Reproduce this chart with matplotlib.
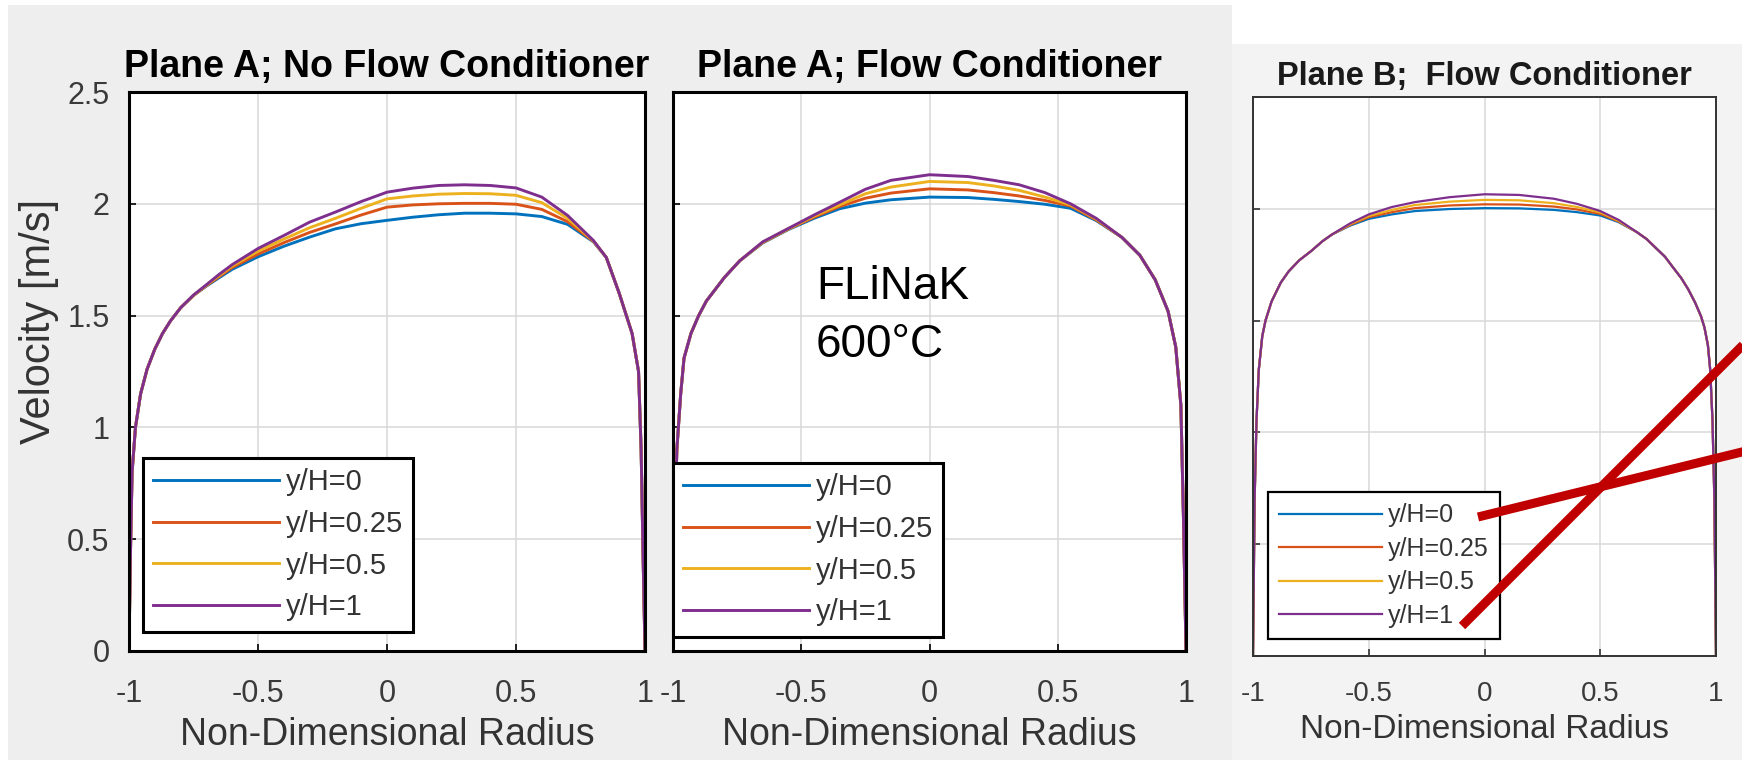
import matplotlib
matplotlib.use("Agg")
import matplotlib.pyplot as plt
from matplotlib.patches import Rectangle
from matplotlib.lines import Line2D

plt.rcParams['font.family'] = ['Liberation Sans', 'DejaVu Sans']
plt.rcParams['axes.unicode_minus'] = False

# ---------------- data ----------------
series_labels = ["y/H=0", "y/H=0.25", "y/H=0.5", "y/H=1"]
series_colors = ["#0072BD", "#D95319", "#EDB120", "#7E2F8E"]

titles = ["Plane A; No Flow Conditioner", "Plane A; Flow Conditioner", "Plane B;  Flow Conditioner"]
x_ticks = [-1, -0.5, 0, 0.5, 1]
x_ticklabels = ["-1", "-0.5", "0", "0.5", "1"]
y_ticks = [0, 0.5, 1, 1.5, 2, 2.5]
y_ticklabels = ["0", "0.5", "1", "1.5", "2", "2.5"]

# Panel 1: Plane A, no flow conditioner
x_p1 = [-1, -0.995, -0.988, -0.975, -0.955, -0.93, -0.9, -0.87, -0.84, -0.8, -0.75, -0.7, -0.65, -0.6,
        -0.5, -0.4, -0.3, -0.2, -0.1, 0, 0.1, 0.2, 0.3, 0.4, 0.5, 0.6, 0.7, 0.8, 0.85, 0.9, 0.95,
        0.975, 0.985, 0.993, 1.0]
p1_blue = [0, 0.4, 0.8, 1.0, 1.15, 1.26, 1.35, 1.42, 1.475, 1.535, 1.59, 1.632, 1.67, 1.707,
           1.763, 1.81, 1.851, 1.888, 1.911, 1.926, 1.94, 1.951, 1.958, 1.958, 1.955, 1.943, 1.908,
           1.83, 1.76, 1.6, 1.42, 1.25, 0.9, 0.4, 0]
p1_orange = [0, 0.4, 0.8, 1.0, 1.15, 1.26, 1.35, 1.42, 1.475, 1.535, 1.59, 1.634, 1.675, 1.715,
             1.775, 1.826, 1.872, 1.91, 1.95, 1.985, 1.995, 2.0, 2.002, 2.002, 1.998, 1.975, 1.92,
             1.832, 1.76, 1.6, 1.42, 1.25, 0.9, 0.4, 0]
p1_yellow = [0, 0.4, 0.8, 1.0, 1.15, 1.26, 1.35, 1.42, 1.475, 1.535, 1.59, 1.636, 1.68, 1.722,
             1.788, 1.842, 1.893, 1.935, 1.98, 2.022, 2.035, 2.043, 2.046, 2.045, 2.038, 2.005, 1.935,
             1.834, 1.76, 1.6, 1.42, 1.25, 0.9, 0.4, 0]
p1_purple = [0, 0.4, 0.8, 1.0, 1.15, 1.26, 1.35, 1.42, 1.475, 1.535, 1.592, 1.638, 1.685, 1.728,
             1.80, 1.858, 1.918, 1.963, 2.01, 2.052, 2.07, 2.082, 2.085, 2.082, 2.071, 2.03, 1.948,
             1.836, 1.76, 1.6, 1.42, 1.25, 0.9, 0.4, 0]

# Panel 2: Plane A, flow conditioner
x_p2 = [-1, -0.995, -0.985, -0.97, -0.957, -0.93, -0.9, -0.87, -0.8, -0.74, -0.65, -0.55, -0.45, -0.35,
        -0.25, -0.15, 0, 0.15, 0.25, 0.35, 0.45, 0.55, 0.65, 0.75, 0.82, 0.88, 0.93, 0.96, 0.98, 0.99, 1.0]
p2_blue = [0, 0.45, 0.9, 1.15, 1.31, 1.42, 1.5, 1.565, 1.67, 1.745, 1.825, 1.885, 1.935, 1.978,
           2.003, 2.018, 2.03, 2.028, 2.02, 2.01, 1.998, 1.98, 1.925, 1.85, 1.77, 1.66, 1.52, 1.36, 1.1, 0.6, 0]
p2_orange = [0, 0.45, 0.9, 1.15, 1.31, 1.42, 1.5, 1.565, 1.67, 1.745, 1.827, 1.887, 1.94, 1.988,
             2.025, 2.048, 2.067, 2.062, 2.05, 2.035, 2.015, 1.99, 1.928, 1.85, 1.77, 1.66, 1.52, 1.36, 1.1, 0.6, 0]
p2_yellow = [0, 0.45, 0.9, 1.15, 1.31, 1.42, 1.5, 1.565, 1.67, 1.745, 1.828, 1.888, 1.945, 1.995,
             2.045, 2.075, 2.10, 2.095, 2.08, 2.06, 2.03, 1.995, 1.932, 1.85, 1.77, 1.66, 1.52, 1.36, 1.1, 0.6, 0]
p2_purple = [0, 0.45, 0.9, 1.15, 1.31, 1.42, 1.5, 1.565, 1.67, 1.745, 1.83, 1.89, 1.95, 2.007,
             2.065, 2.105, 2.13, 2.122, 2.105, 2.085, 2.05, 2.0, 1.935, 1.85, 1.77, 1.66, 1.52, 1.36, 1.1, 0.6, 0]

# Panel 3: Plane B, flow conditioner
x_p3 = [-1, -0.997, -0.993, -0.985, -0.975, -0.96, -0.946, -0.92, -0.88, -0.846, -0.8, -0.75, -0.7,
        -0.659, -0.58, -0.5, -0.4, -0.3, -0.15, 0, 0.15, 0.3, 0.4, 0.5, 0.58, 0.659, 0.7, 0.74, 0.78,
        0.815, 0.85, 0.88, 0.91, 0.935, 0.95, 0.965, 0.975, 0.985, 0.993, 0.997, 1.0]
p3_edge_left = [0, 0.3, 0.7, 1.05, 1.28, 1.43, 1.5, 1.585, 1.67, 1.72, 1.77, 1.81, 1.855, 1.885]
p3_edge_right = [1.895, 1.865, 1.825, 1.785, 1.737, 1.69, 1.64, 1.58, 1.52, 1.47, 1.39, 1.28, 1.05, 0.7, 0.3, 0]
p3_blue = p3_edge_left + [1.925, 1.955, 1.975, 1.99, 1.999, 2.003, 2.002, 1.995, 1.985, 1.97, 1.94] + p3_edge_right
p3_orange = p3_edge_left + [1.928, 1.962, 1.985, 2.003, 2.015, 2.02, 2.019, 2.01, 1.997, 1.977, 1.943] + p3_edge_right
p3_yellow = p3_edge_left + [1.932, 1.968, 1.995, 2.017, 2.032, 2.04, 2.038, 2.025, 2.008, 1.984, 1.946] + p3_edge_right
p3_purple = p3_edge_left + [1.935, 1.975, 2.008, 2.03, 2.052, 2.065, 2.062, 2.045, 2.022, 1.99, 1.95] + p3_edge_right

panels = [
    (x_p1, [p1_blue, p1_orange, p1_yellow, p1_purple]),
    (x_p2, [p2_blue, p2_orange, p2_yellow, p2_purple]),
    (x_p3, [p3_blue, p3_orange, p3_yellow, p3_purple]),
]

annotation_text = ["FLiNaK", "600\u00b0C"]

# ---------------- layout ----------------
W, H = 1742, 770
fig = plt.figure(figsize=(W / 100, H / 100), dpi=100)
fig.patch.set_facecolor("#eeeeee")


def fx(px):
    return px / W


def fy(py):
    return 1 - py / H


def box(l, t, r, b):
    return [fx(l), fy(b), (r - l) / W, (b - t) / H]


# white margins of the pasted screenshot
for (l, t, r, b) in [(0, 0, 8, 770), (0, 0, 1742, 5), (0, 760, 1742, 770), (1232, 0, 1742, 44)]:
    fig.patches.append(Rectangle((fx(l), fy(b)), (r - l) / W, (b - t) / H, transform=fig.transFigure,
                                 facecolor="white", edgecolor="none", zorder=-20))
# slightly lighter area behind third panel
fig.patches.append(Rectangle((fx(1232), fy(760)), (1742 - 1232) / W, (760 - 44) / H, transform=fig.transFigure,
                             facecolor="#f3f3f3", edgecolor="none", zorder=-20))

axes_boxes = [box(129, 92, 645, 651), box(673, 92, 1186, 651), box(1253, 97, 1716, 656)]
legend_anchor = [(143, 458), (673, 463), (1268, 492)]
is_small = [False, False, True]

for i, ((xs, ys_list), rect) in enumerate(zip(panels, axes_boxes)):
    ax = fig.add_axes(rect)
    ax.set_zorder(1)
    small = is_small[i]
    lw = 1.6 if small else 2.1
    for ys, c, lab in zip(ys_list, series_colors, series_labels):
        ax.plot(xs, ys, color=c, lw=lw, label=lab, solid_joinstyle="round")
    ax.set_xlim(-1, 1)
    ax.set_ylim(0, 2.5)
    ax.set_xticks(x_ticks)
    ax.set_yticks(y_ticks)
    ax.set_xticklabels(x_ticklabels)
    if i == 0:
        ax.set_yticklabels(y_ticklabels)
        ax.set_ylabel("Velocity [m/s]", fontsize=30, color="#333333")
        ax.yaxis.set_label_coords(-0.135, 0.59)
    else:
        ax.set_yticklabels([])
    ax.grid(True, color="#d8d8d8", lw=1.1)
    ax.set_axisbelow(True)
    spine_c = "#333333" if small else "black"
    for s in ax.spines.values():
        s.set_color(spine_c)
        s.set_linewidth(1.4 if small else 2.2)
    ax.tick_params(direction="in", length=5, width=1.2, colors=spine_c,
                   labelcolor="#3a3a3a", labelsize=20 if small else 22,
                   pad=14)
    ax.tick_params(axis="x", pad=18 if small else 20)
    ax.set_xlabel("Non-Dimensional Radius", fontsize=24 if small else 27, color="#333333",
                  labelpad=5 if small else 6)
    if small:
        ax.set_title(titles[i], fontsize=23.5, fontweight="bold", color="#1a1a1a", pad=9)
    else:
        ax.set_title(titles[i], fontsize=27, fontweight="bold", color="black", pad=11)
    lx, ly = legend_anchor[i]
    fs = 18 if small else 21
    leg = ax.legend(loc="upper left", bbox_to_anchor=(fx(lx), fy(ly)), bbox_transform=fig.transFigure,
                    fontsize=fs, frameon=True, fancybox=False, framealpha=1, edgecolor="black",
                    borderaxespad=0, borderpad=0.35 if not small else 0.45,
                    labelspacing=0.47 if not small else 0.38,
                    handlelength=4.3 if not small else 4.1, handletextpad=0.25)
    leg.get_frame().set_linewidth(1.6 if small else 2.2)
    for t in leg.get_texts():
        t.set_color("#333333")
    if i == 1:
        ax.text(-0.443, 1.573, annotation_text[0], fontsize=33, color="black", va="baseline", ha="left")
        ax.text(-0.443, 1.315, annotation_text[1], fontsize=33, color="black", va="baseline", ha="left")

# red annotation strokes over the third panel
red_strokes = [((1478, 517), (1750, 450)), ((1462, 626), (1750, 338))]
for (a, b) in red_strokes:
    fig.add_artist(Line2D([fx(a[0]), fx(b[0])], [fy(a[1]), fy(b[1])], transform=fig.transFigure,
                          color="#c00000", lw=6.5, solid_capstyle="butt", zorder=10))

fig.savefig("out.png", dpi=100, facecolor=fig.get_facecolor())
